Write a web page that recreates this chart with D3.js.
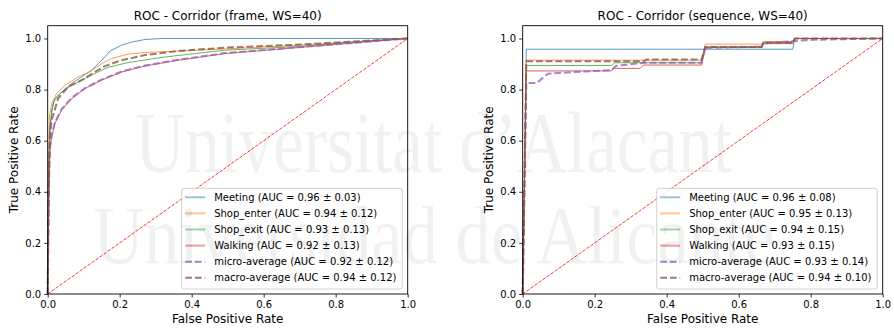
<!DOCTYPE html>
<html>
<head>
<meta charset="utf-8">
<script src="https://cdn.jsdelivr.net/npm/d3@7"></script>
<style>
  body { margin: 0; background: #fff; }
  text { font-family: "DejaVu Sans", sans-serif; }
</style>
</head>
<body>
<div id="chart"></div>
<script>
// tick labels
const ticks = [0, 0.2, 0.4, 0.6, 0.8, 1.0];

// series names and colours (matplotlib tab10)
const classNames = ['Meeting', 'Shop_enter', 'Shop_exit', 'Walking', 'micro-average', 'macro-average'];
const colors = ['#1f77b4', '#ff7f0e', '#2ca02c', '#d62728', '#9467bd', '#8c564b'];

// left panel: frame level, [fpr, tpr]
const frameMeeting = [[0,0],[0.004,0.45],[0.006,0.62],[0.011,0.72],[0.02,0.765],[0.039,0.791],[0.067,0.824],[0.094,0.85],[0.122,0.876],[0.141,0.902],[0.159,0.928],[0.173,0.951],[0.206,0.974],[0.233,0.986],[0.27,0.996],[0.32,1.0],[1,1]];
const frameShopEnter = [[0,0],[0.003,0.5],[0.005,0.7],[0.011,0.746],[0.025,0.785],[0.048,0.817],[0.085,0.85],[0.117,0.869],[0.15,0.902],[0.178,0.922],[0.224,0.939],[0.27,0.945],[0.363,0.951],[0.493,0.959],[0.7,0.974],[0.886,0.99],[1,1]];
const frameShopExit = [[0,0],[0.003,0.5],[0.006,0.66],[0.016,0.752],[0.039,0.791],[0.067,0.817],[0.104,0.843],[0.131,0.863],[0.168,0.887],[0.224,0.906],[0.317,0.926],[0.409,0.941],[0.493,0.954],[0.7,0.969],[0.886,0.99],[1,1]];
const frameWalking = [[0,0],[0.003,0.4],[0.006,0.56],[0.011,0.615],[0.02,0.668],[0.039,0.72],[0.067,0.765],[0.104,0.804],[0.15,0.837],[0.206,0.869],[0.27,0.892],[0.363,0.915],[0.493,0.941],[0.7,0.965],[0.886,0.987],[1,1]];
const frameMicro = [[0,0],[0.003,0.4],[0.006,0.57],[0.011,0.62],[0.02,0.672],[0.039,0.724],[0.067,0.768],[0.104,0.806],[0.15,0.839],[0.206,0.871],[0.27,0.894],[0.363,0.917],[0.493,0.943],[0.7,0.966],[0.886,0.987],[1,1]];
const frameMacro = [[0,0],[0.003,0.45],[0.006,0.62],[0.011,0.68],[0.029,0.765],[0.057,0.811],[0.094,0.837],[0.131,0.869],[0.159,0.892],[0.206,0.915],[0.27,0.935],[0.363,0.951],[0.493,0.964],[0.7,0.976],[0.886,0.991],[1,1]];
const frameAuc = ['0.96 ± 0.03', '0.94 ± 0.12', '0.93 ± 0.13', '0.92 ± 0.13', '0.92 ± 0.12', '0.94 ± 0.12'];

// right panel: sequence level
const seqMeeting = [[0,0],[0.01,0.958],[0.75,0.958],[0.756,1],[1,1]];
const seqShopEnter = [[0,0],[0.01,0.915],[0.497,0.915],[0.507,0.978],[0.664,0.978],[0.668,0.988],[0.75,0.988],[0.756,1],[1,1]];
const seqShopExit = [[0,0],[0.01,0.894],[0.247,0.894],[0.255,0.905],[0.497,0.905],[0.507,0.967],[0.664,0.967],[0.668,0.985],[0.75,0.985],[0.756,1],[1,1]];
const seqWalking = [[0,0],[0.01,0.873],[0.245,0.873],[0.255,0.883],[0.326,0.883],[0.335,0.896],[0.497,0.896],[0.507,0.965],[0.664,0.965],[0.668,0.98],[0.75,0.98],[0.756,1],[1,1]];
const seqMicro = [[0,0],[0.01,0.826],[0.039,0.826],[0.07,0.862],[0.144,0.869],[0.245,0.876],[0.26,0.893],[0.34,0.905],[0.497,0.905],[0.507,0.963],[0.664,0.968],[0.668,0.98],[0.756,0.99],[0.807,0.995],[1,1]];
const seqMacro = [[0,0],[0.01,0.911],[0.336,0.911],[0.345,0.918],[0.497,0.918],[0.507,0.967],[0.664,0.967],[0.668,0.983],[0.75,0.983],[0.756,1],[1,1]];
const seqAuc = ['0.96 ± 0.08', '0.95 ± 0.13', '0.94 ± 0.15', '0.93 ± 0.15', '0.93 ± 0.14', '0.94 ± 0.10'];

const width = 894, height = 329;
const svg = d3.select('#chart').append('svg')
  .attr('width', width).attr('height', height);

function drawPanel(left, title, series, auc) {
  const top = 25.7, bottom = 294, plotW = 360;
  const x = d3.scaleLinear().domain([0, 1]).range([left, left + plotW]);
  const y = d3.scaleLinear().domain([0, 1.05]).range([bottom, top]);
  const g = svg.append('g');

  // diagonal chance line
  g.append('path')
    .datum([[0, 0], [1, 1]])
    .attr('fill', 'none')
    .attr('stroke', 'red').attr('stroke-opacity', 0.8)
    .attr('stroke-width', 1)
    .attr('stroke-dasharray', '3.4,1.5')
    .attr('d', d3.line().x(d => x(d[0])).y(d => y(d[1])));

  const line = d3.line().x(d => x(d[0])).y(d => y(d[1]));

  series.forEach((s, i) => {
    const avg = i >= 4;
    g.append('path')
      .datum(s)
      .attr('fill', 'none')
      .attr('stroke', colors[i])
      .attr('stroke-opacity', avg ? 0.8 : 0.75)
      .attr('stroke-width', avg ? 2 : 1)
      .attr('stroke-dasharray', avg ? '6.8,2.9' : null)
      .attr('d', line);
  });

  // axes
  const xa = g.append('g')
    .attr('transform', `translate(0,${bottom})`)
    .call(d3.axisBottom(x).tickValues(ticks).tickFormat(d3.format('.1f')).tickSizeOuter(0).tickSize(3.5).tickPadding(3));
  const ya = g.append('g')
    .attr('transform', `translate(${left},0)`)
    .call(d3.axisLeft(y).tickValues(ticks).tickFormat(d3.format('.1f')).tickSizeOuter(0).tickSize(3.5).tickPadding(3));
  [xa, ya].forEach(a => {
    a.select('.domain').remove();
    a.selectAll('text').style('font-size', '10px').attr('fill', '#000');
    a.selectAll('line').attr('stroke', '#000').attr('stroke-width', 0.8);
  });

  // frame
  g.append('rect')
    .attr('x', x(0)).attr('y', top)
    .attr('width', plotW).attr('height', bottom - top)
    .attr('fill', 'none').attr('stroke', '#000').attr('stroke-width', 0.9);

  g.append('text')
    .attr('x', left + plotW / 2).attr('y', 19.5)
    .attr('text-anchor', 'middle').style('font-size', '12px')
    .text(title);
  g.append('text')
    .attr('x', left + plotW / 2).attr('y', 323)
    .attr('text-anchor', 'middle').style('font-size', '12px')
    .text('False Positive Rate');
  g.append('text')
    .attr('transform', `translate(${left - 30},${(top + bottom) / 2}) rotate(-90)`)
    .attr('text-anchor', 'middle').style('font-size', '12px')
    .text('True Positive Rate');

  // legend
  const lx = left + 134, ly = 188.3, lw = 220.5, lh = 100.7;
  const lg = g.append('g');
  lg.append('rect')
    .attr('x', lx).attr('y', ly).attr('width', lw).attr('height', lh)
    .attr('rx', 2.5)
    .attr('fill', '#fff').attr('fill-opacity', 0.8)
    .attr('stroke', '#cccccc').attr('stroke-width', 0.9);
  classNames.forEach((name, i) => {
    const avg = i >= 4;
    const ry = ly + 9 + i * 16.1;
    lg.append('line')
      .attr('x1', lx + 3.5).attr('x2', lx + 23.5)
      .attr('y1', ry).attr('y2', ry)
      .attr('stroke', colors[i])
      .attr('stroke-opacity', avg ? 0.8 : 0.45)
      .attr('stroke-width', 2)
      .attr('stroke-dasharray', avg ? '6.8,2.9' : null);
    lg.append('text')
      .attr('x', lx + 32.5).attr('y', ry + 3.6)
      .style('font-size', '10px')
      .text(`${name} (AUC = ${auc[i]})`);
  });
}

drawPanel(47.7, 'ROC - Corridor (frame, WS=40)',
  [frameMeeting, frameShopEnter, frameShopExit, frameWalking, frameMicro, frameMacro], frameAuc);
drawPanel(522.7, 'ROC - Corridor (sequence, WS=40)',
  [seqMeeting, seqShopEnter, seqShopExit, seqWalking, seqMicro, seqMacro], seqAuc);

// faint watermark over the figure
const wm = svg.append('g').attr('pointer-events', 'none')
  .style('font-family', '"Liberation Serif", serif')
  .attr('fill', '#000').attr('fill-opacity', 0.055);
wm.append('text').attr('x', 135).attr('y', 171.7)
  .style('font-size', '86px').style('font-family', '"Liberation Serif", serif')
  .attr('textLength', 597).attr('lengthAdjust', 'spacingAndGlyphs')
  .text('Universitat d\u2019Alacant');
wm.append('text').attr('x', 93).attr('y', 263)
  .style('font-size', '83px').style('font-family', '"Liberation Serif", serif')
  .attr('textLength', 682).attr('lengthAdjust', 'spacingAndGlyphs')
  .text('Universidad de Alicante');
</script>
</body>
</html>
